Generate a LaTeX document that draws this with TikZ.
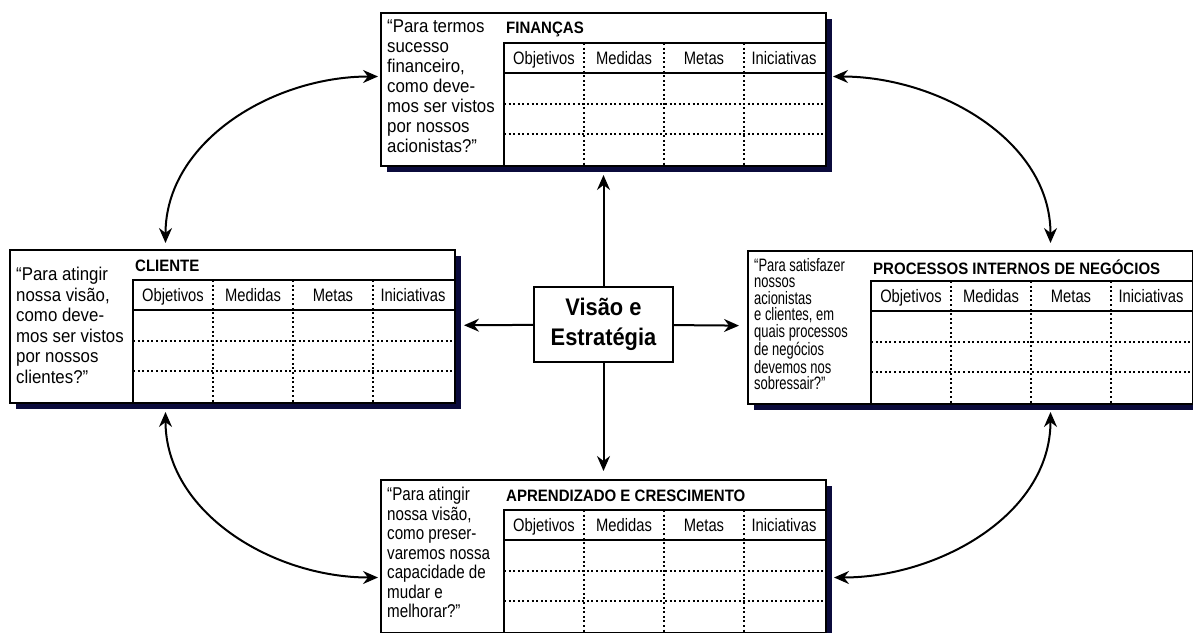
\documentclass[tikz,border=0pt]{standalone}
\usepackage{fontspec}
\setmainfont{Liberation Sans}
\newfontfamily\media[FakeStretch=0.91]{Liberation Sans}
\newfontfamily\estreita[FakeStretch=0.82]{Liberation Sans}
\newfontfamily\estreitissima[FakeStretch=0.72]{Liberation Sans}
\usepackage{tikz}
\usetikzlibrary{arrows.meta,shadows}
\definecolor{sombra}{HTML}{0B0B3C}

% um quadro: nome, canto, titulo, pergunta, fonte da pergunta, descida da pergunta
\newcommand{\perspectiva}[6]{%
	\node[cartao] (#1) at (#2) {};
	\node[titulo] (#1-tit) at ([xshift=126pt,yshift=-17pt]#1.north west) {#3};
	\node[pergunta, font=#5] (#1-perg) at ([xshift=7pt,yshift=-#6]#1.north west) {#4};
	\coordinate (#1-t) at ([xshift=124pt,yshift=-31pt]#1.north west);
	\coordinate (#1-c) at ([yshift=-30pt]#1-t);
	\draw[grade] (#1-t -| #1.east) -- (#1-t) -- (#1-t |- #1.south);
	\draw[grade] (#1-c) -- (#1-c -| #1.east);
	\foreach \l in {30.5,61}
		\draw[pontilhado] ([yshift=-\l pt]#1-c) -- ([xshift=320pt,yshift=-\l pt]#1-c);
	\foreach \rot [count=\i from 0] in {Objetivos,Medidas,Metas,Iniciativas}{
		\node[cabecalho] at ([xshift={(\i+0.5)*80pt},yshift=-21pt]#1-t) {\rot};
		\ifnum\i>0
			\draw[pontilhado] ([xshift={\i*80pt}]#1-t) -- ([xshift={\i*80pt},yshift=-122pt]#1-t);
		\fi
	}
}

\begin{document}
\begin{tikzpicture}[x=1pt, y=1pt,
		cartao/.style={draw, line width=2pt, fill=white, anchor=north west, inner sep=0pt,
			minimum width=445pt, minimum height=153pt,
			general shadow={fill=sombra, shadow xshift=6pt, shadow yshift=-6pt}},
		titulo/.style={anchor=west, inner sep=0pt, font=\media\bfseries\fontsize{16.5}{19}\selectfont},
		pergunta/.style={anchor=north west, inner sep=0pt, align=left},
		cabecalho/.style={anchor=base, inner sep=0pt, font=\estreita\fontsize{18}{20}\selectfont},
		grade/.style={line width=2pt},
		pontilhado/.style={line width=2pt, dash pattern=on 2pt off 2.6pt},
		centro/.style={draw, line width=2pt, minimum width=139pt, minimum height=75pt,
			align=center, font=\media\bfseries\fontsize{24}{30}\selectfont},
		seta/.style={line width=2pt, -{Stealth[length=15pt,width=13pt,inset=5pt]}, shorten >=8pt},
		bseta/.style={line width=2pt,
			{Stealth[length=15pt,width=13pt,inset=5pt]}-{Stealth[length=15pt,width=13pt,inset=5pt]}}
	]
	\useasboundingbox (0,0) rectangle (1193,-632);

	\perspectiva{fin}{380,-12}{FINANÇAS}
		{“Para termos\\sucesso\\financeiro,\\como deve-\\mos ser vistos\\por nossos\\acionistas?”}
		{\media\fontsize{18.5}{20}\selectfont}{8pt}
	\perspectiva{cli}{9,-249}{CLIENTE}
		{“Para atingir\\nossa visão,\\como deve-\\mos ser vistos\\por nossos\\clientes?”}
		{\media\fontsize{18.5}{20.5}\selectfont}{18pt}
	\perspectiva{proc}{747,-250}{PROCESSOS INTERNOS DE NEGÓCIOS}
		{“Para satisfazer\\nossos\\acionistas\\e clientes, em\\quais processos\\de negócios\\devemos nos\\sobressair?”}
		{\estreitissima\fontsize{18}{16.5}\selectfont}{8pt}
	\perspectiva{apr}{380,-479}{APRENDIZADO E CRESCIMENTO}
		{“Para atingir\\nossa visão,\\como preser-\\varemos nossa\\capacidade de\\mudar e\\melhorar?”}
		{\estreita\fontsize{18.5}{19.5}\selectfont}{8pt}

	\node[centro] (visao) at (603.5,-324.5) {Visão e\\Estratégia};

	\draw[seta] (visao) -- (fin);
	\draw[seta] (visao) -- (cli);
	\draw[seta] (visao) -- (proc);
	\draw[seta] (visao) -- (apr);

	\draw[bseta, shorten <=6pt, shorten >=2pt] ([xshift=-67pt]cli.north) to[out=90, in=180] ([yshift=13pt]fin.west);
	\draw[bseta, shorten <=6pt, shorten >=7pt] ([yshift=13pt]fin.east) to[out=0, in=90] ([xshift=80pt]proc.north);
	\draw[bseta, shorten <=8pt, shorten >=2pt] ([xshift=-67pt]cli.south) to[out=-90, in=180] ([yshift=-21pt]apr.west);
	\draw[bseta, shorten <=7pt, shorten >=7pt] ([xshift=80pt]proc.south) to[out=-90, in=0] ([yshift=-21pt]apr.east);
\end{tikzpicture}
\end{document}
